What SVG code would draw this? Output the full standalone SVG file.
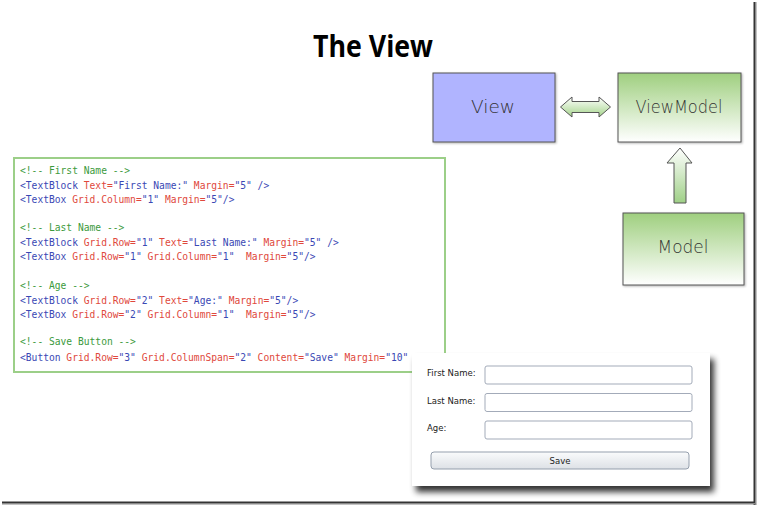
<svg xmlns="http://www.w3.org/2000/svg" width="758" height="507" viewBox="0 0 758 507">
<style>
.title{font-family:"Open Sans","Liberation Sans",sans-serif;font-weight:bold;font-size:31px;fill:#000}
.box{stroke:#555;stroke-width:1}
.hand{font-family:"DejaVu Sans","Liberation Sans",sans-serif;font-weight:200;font-size:17px;fill:#333;text-anchor:middle}
.code{font-family:"DejaVu Sans Mono","Liberation Mono",monospace;font-size:9.65px}
.c{fill:#3c9a3c}
.t{fill:#3a48b4}
.a{fill:#e0483c}
.v{fill:#3a48b4}
.lbl{font-family:"DejaVu Sans","Liberation Sans",sans-serif;font-size:8.5px;fill:#222}
.tb{fill:#fff;stroke:#a3abb9;stroke-width:1}
</style>
<defs>
<linearGradient id="gVert" x1="0" y1="0" x2="0" y2="1">
<stop offset="0" stop-color="#9fcf7f"/>
<stop offset="1" stop-color="#ffffff"/>
</linearGradient>
<linearGradient id="gArrowH" x1="0" y1="0" x2="0" y2="1">
<stop offset="0" stop-color="#ffffff"/>
<stop offset="1" stop-color="#a4d48a"/>
</linearGradient>
<linearGradient id="gArrowV" x1="0" y1="0" x2="0" y2="1">
<stop offset="0" stop-color="#ffffff"/>
<stop offset="1" stop-color="#9fd087"/>
</linearGradient>
<linearGradient id="gBtn" x1="0" y1="0" x2="0" y2="1">
<stop offset="0" stop-color="#fafbfc"/>
<stop offset="1" stop-color="#dde1e6"/>
</linearGradient>
<filter id="sh" x="-10%" y="-10%" width="130%" height="140%">
<feGaussianBlur in="SourceAlpha" stdDeviation="3"/>
<feOffset dx="4" dy="6"/>
<feComponentTransfer><feFuncA type="linear" slope="0.8"/></feComponentTransfer>
<feMerge><feMergeNode/><feMergeNode in="SourceGraphic"/></feMerge>
</filter>
<filter id="sh2" x="-10%" y="-10%" width="130%" height="130%">
<feGaussianBlur in="SourceAlpha" stdDeviation="1"/>
<feOffset dx="1" dy="1"/>
<feComponentTransfer><feFuncA type="linear" slope="0.3"/></feComponentTransfer>
<feMerge><feMergeNode/><feMergeNode in="SourceGraphic"/></feMerge>
</filter>
</defs>
<rect x="0" y="0" width="758" height="507" fill="#fff"/>
<rect x="753.5" y="2" width="1.5" height="503" fill="#333"/>
<rect x="755" y="2" width="1.5" height="503" fill="#888"/>
<rect x="2" y="501.5" width="753" height="1.5" fill="#333"/>
<rect x="2" y="503" width="754" height="1.5" fill="#888"/>

<text class="title" x="313" y="57" textLength="120" lengthAdjust="spacingAndGlyphs">The View</text>

<g id="view">
<rect class="box" x="433" y="73" width="122" height="69" fill="#b0b4ff" filter="url(#sh2)"/>
<text class="hand" x="493" y="113" textLength="44" lengthAdjust="spacingAndGlyphs">View</text>
</g>
<g id="viewmodel">
<rect class="box" x="618" y="73" width="123" height="69" fill="url(#gVert)" filter="url(#sh2)"/>
<text class="hand" x="679" y="113" textLength="87" lengthAdjust="spacingAndGlyphs">ViewModel</text>
</g>
<g id="model">
<rect class="box" x="623" y="213" width="121" height="72" fill="url(#gVert)" filter="url(#sh2)"/>
<text class="hand" x="683" y="253" textLength="51" lengthAdjust="spacingAndGlyphs">Model</text>
</g>

<g id="connectors">
<path d="M560.5,107 L572,97 L572,101.5 L599,101.5 L599,97 L610.5,107 L599,117 L599,112.5 L572,112.5 L572,117 Z" fill="url(#gArrowH)" stroke="#555" stroke-width="1"/>
<path d="M680,148 L692,163 L686,163 L686,203 L674,203 L674,163 L667,163 Z" fill="url(#gArrowV)" stroke="#555" stroke-width="1"/>
</g>

<g id="code">
<rect x="14" y="158" width="431" height="214" fill="#fff" stroke="#9ccf88" stroke-width="2"/>
<text class="code" x="20" y="174"><tspan class="c">&lt;!-- First Name --&gt;</tspan></text>
<text class="code" x="20" y="189"><tspan class="t">&lt;TextBlock</tspan><tspan class="a"> Text=</tspan><tspan class="v">"First Name:"</tspan><tspan class="a"> Margin=</tspan><tspan class="v">"5" /&gt;</tspan></text>
<text class="code" x="20" y="203"><tspan class="t">&lt;TextBox</tspan><tspan class="a"> Grid.Column=</tspan><tspan class="v">"1"</tspan><tspan class="a"> Margin=</tspan><tspan class="v">"5"/&gt;</tspan></text>
<text class="code" x="20" y="231"><tspan class="c">&lt;!-- Last Name --&gt;</tspan></text>
<text class="code" x="20" y="246"><tspan class="t">&lt;TextBlock</tspan><tspan class="a"> Grid.Row=</tspan><tspan class="v">"1"</tspan><tspan class="a"> Text=</tspan><tspan class="v">"Last Name:"</tspan><tspan class="a"> Margin=</tspan><tspan class="v">"5" /&gt;</tspan></text>
<text class="code" x="20" y="260" xml:space="preserve"><tspan class="t">&lt;TextBox</tspan><tspan class="a"> Grid.Row=</tspan><tspan class="v">"1"</tspan><tspan class="a"> Grid.Column=</tspan><tspan class="v">"1"</tspan><tspan class="a">  Margin=</tspan><tspan class="v">"5"/&gt;</tspan></text>
<text class="code" x="20" y="289"><tspan class="c">&lt;!-- Age --&gt;</tspan></text>
<text class="code" x="20" y="304"><tspan class="t">&lt;TextBlock</tspan><tspan class="a"> Grid.Row=</tspan><tspan class="v">"2"</tspan><tspan class="a"> Text=</tspan><tspan class="v">"Age:"</tspan><tspan class="a"> Margin=</tspan><tspan class="v">"5"/&gt;</tspan></text>
<text class="code" x="20" y="318" xml:space="preserve"><tspan class="t">&lt;TextBox</tspan><tspan class="a"> Grid.Row=</tspan><tspan class="v">"2"</tspan><tspan class="a"> Grid.Column=</tspan><tspan class="v">"1"</tspan><tspan class="a">  Margin=</tspan><tspan class="v">"5"/&gt;</tspan></text>
<text class="code" x="20" y="345"><tspan class="c">&lt;!-- Save Button --&gt;</tspan></text>
<text class="code" x="20" y="361"><tspan class="t">&lt;Button</tspan><tspan class="a"> Grid.Row=</tspan><tspan class="v">"3"</tspan><tspan class="a"> Grid.ColumnSpan=</tspan><tspan class="v">"2"</tspan><tspan class="a"> Content=</tspan><tspan class="v">"Save"</tspan><tspan class="a"> Margin=</tspan><tspan class="v">"10"</tspan></text>
</g>

<g id="form">
<rect x="412" y="353" width="298" height="133" fill="#fff" filter="url(#sh)"/>
<text class="lbl" x="427" y="376">First Name:</text>
<text class="lbl" x="427" y="404">Last Name:</text>
<text class="lbl" x="427" y="431">Age:</text>
<rect class="tb" x="485" y="366" width="207" height="18" rx="2"/>
<rect class="tb" x="485" y="393.5" width="207" height="18" rx="2"/>
<rect class="tb" x="485" y="421" width="207" height="18" rx="2"/>
<rect x="431" y="452" width="258" height="17" rx="3" fill="url(#gBtn)" stroke="#959fad" stroke-width="1"/>
<text class="lbl" x="560" y="464" text-anchor="middle">Save</text>
</g>
</svg>
